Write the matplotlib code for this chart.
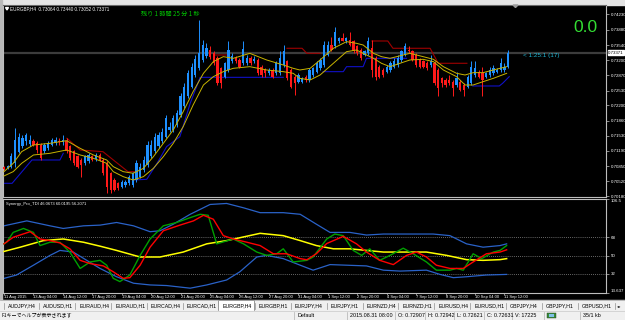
import matplotlib
matplotlib.use("Agg")
import matplotlib.pyplot as plt
from matplotlib.patches import Rectangle, Polygon

plt.rcParams['font.family'] = ['Liberation Sans', 'Noto Sans CJK JP', 'DejaVu Sans']

# ---------------- data ----------------
opens = [0.7084, 0.7080, 0.7084, 0.7092, 0.7117, 0.7129, 0.7140, 0.7135, 0.7141, 0.7136,
         0.7132, 0.7118, 0.7125, 0.7132, 0.7136, 0.7140, 0.7138, 0.7140, 0.7129, 0.7118,
         0.7107, 0.7099, 0.7092, 0.7096, 0.7107, 0.7101, 0.7110, 0.7099, 0.7092, 0.7070,
         0.7055, 0.7047, 0.7040, 0.7043, 0.7047, 0.7043, 0.7055, 0.7062, 0.7077, 0.7088,
         0.7107, 0.7118, 0.7129, 0.7140, 0.7151, 0.7166, 0.7166, 0.7177, 0.7199, 0.7218,
         0.7240, 0.7262, 0.7288, 0.7303, 0.7321, 0.7329, 0.7343, 0.7336, 0.7325, 0.7303,
         0.7284, 0.7299, 0.7318, 0.7325, 0.7321, 0.7314, 0.7314, 0.7325, 0.7318, 0.7321,
         0.7306, 0.7299, 0.7292, 0.7299, 0.7292, 0.7292, 0.7310, 0.7318, 0.7299, 0.7284,
         0.7273, 0.7273, 0.7284, 0.7277, 0.7288, 0.7295, 0.7303, 0.7310, 0.7332, 0.7354,
         0.7351, 0.7362, 0.7369, 0.7362, 0.7365, 0.7362, 0.7351, 0.7343, 0.7332, 0.7336,
         0.7347, 0.7325, 0.7306, 0.7299, 0.7295, 0.7299, 0.7306, 0.7310, 0.7321, 0.7332,
         0.7343, 0.7340, 0.7332, 0.7321, 0.7318, 0.7314, 0.7310, 0.7314, 0.7299, 0.7280,
         0.7277, 0.7277, 0.7273, 0.7266, 0.7273, 0.7266, 0.7262, 0.7269, 0.7288, 0.7295,
         0.7292, 0.7284, 0.7288, 0.7292, 0.7295, 0.7299, 0.7299, 0.7306]
closes = [0.7079, 0.7086, 0.7108, 0.7143, 0.7151, 0.7147, 0.7155, 0.7143, 0.7132, 0.7121,
          0.7103, 0.7132, 0.7136, 0.7143, 0.7143, 0.7138, 0.7143, 0.7118, 0.7103, 0.7092,
          0.7084, 0.7088, 0.7107, 0.7110, 0.7099, 0.7110, 0.7099, 0.7070, 0.7040, 0.7033,
          0.7033, 0.7036, 0.7051, 0.7051, 0.7062, 0.7070, 0.7092, 0.7084, 0.7099, 0.7132,
          0.7132, 0.7151, 0.7155, 0.7162, 0.7192, 0.7173, 0.7192, 0.7203, 0.7240, 0.7262,
          0.7292, 0.7306, 0.7323, 0.7336, 0.7354, 0.7347, 0.7327, 0.7314, 0.7269, 0.7269,
          0.7314, 0.7343, 0.7329, 0.7318, 0.7306, 0.7345, 0.7325, 0.7314, 0.7323, 0.7292,
          0.7288, 0.7292, 0.7299, 0.7284, 0.7314, 0.7325, 0.7340, 0.7280, 0.7262, 0.7269,
          0.7288, 0.7280, 0.7277, 0.7299, 0.7303, 0.7314, 0.7321, 0.7354, 0.7354, 0.7343,
          0.7384, 0.7369, 0.7364, 0.7369, 0.7354, 0.7340, 0.7336, 0.7325, 0.7340, 0.7362,
          0.7299, 0.7284, 0.7284, 0.7288, 0.7306, 0.7314, 0.7318, 0.7325, 0.7340, 0.7351,
          0.7340, 0.7321, 0.7310, 0.7306, 0.7306, 0.7303, 0.7318, 0.7269, 0.7258, 0.7269,
          0.7266, 0.7269, 0.7258, 0.7280, 0.7255, 0.7255, 0.7284, 0.7306, 0.7303, 0.7284,
          0.7277, 0.7292, 0.7299, 0.7303, 0.7299, 0.7314, 0.7306, 0.7337]
highs = [0.7086, 0.7088, 0.7114, 0.7170, 0.7158, 0.7154, 0.7158, 0.7155, 0.7145, 0.7140,
         0.7136, 0.7136, 0.7140, 0.7147, 0.7151, 0.7147, 0.7155, 0.7147, 0.7132, 0.7121,
         0.7110, 0.7103, 0.7110, 0.7114, 0.7110, 0.7114, 0.7114, 0.7103, 0.7096, 0.7073,
         0.7058, 0.7051, 0.7055, 0.7055, 0.7066, 0.7073, 0.7099, 0.7092, 0.7107, 0.7140,
         0.7143, 0.7158, 0.7162, 0.7170, 0.7199, 0.7184, 0.7199, 0.7210, 0.7247, 0.7269,
         0.7299, 0.7314, 0.7332, 0.7410, 0.7366, 0.7358, 0.7351, 0.7340, 0.7329, 0.7306,
         0.7317, 0.7362, 0.7336, 0.7329, 0.7325, 0.7362, 0.7332, 0.7329, 0.7329, 0.7325,
         0.7310, 0.7303, 0.7303, 0.7303, 0.7318, 0.7340, 0.7355, 0.7321, 0.7303, 0.7288,
         0.7292, 0.7284, 0.7288, 0.7303, 0.7306, 0.7318, 0.7325, 0.7362, 0.7362, 0.7373,
         0.7395, 0.7373, 0.7381, 0.7373, 0.7384, 0.7366, 0.7354, 0.7347, 0.7343, 0.7373,
         0.7366, 0.7329, 0.7310, 0.7303, 0.7310, 0.7318, 0.7325, 0.7332, 0.7343, 0.7358,
         0.7351, 0.7343, 0.7336, 0.7325, 0.7321, 0.7318, 0.7332, 0.7318, 0.7303, 0.7284,
         0.7280, 0.7288, 0.7277, 0.7295, 0.7277, 0.7269, 0.7288, 0.7318, 0.7318, 0.7299,
         0.7306, 0.7295, 0.7306, 0.7310, 0.7303, 0.7325, 0.7314, 0.7344]
lows = [0.7077, 0.7078, 0.7081, 0.7084, 0.7114, 0.7125, 0.7132, 0.7129, 0.7129, 0.7114,
        0.7099, 0.7114, 0.7121, 0.7129, 0.7132, 0.7132, 0.7132, 0.7114, 0.7099, 0.7088,
        0.7081, 0.7062, 0.7088, 0.7092, 0.7096, 0.7096, 0.7096, 0.7066, 0.7025, 0.7025,
        0.7029, 0.7033, 0.7036, 0.7040, 0.7044, 0.7040, 0.7051, 0.7058, 0.7073, 0.7084,
        0.7103, 0.7114, 0.7125, 0.7136, 0.7147, 0.7162, 0.7162, 0.7173, 0.7195, 0.7214,
        0.7236, 0.7258, 0.7284, 0.7299, 0.7317, 0.7325, 0.7323, 0.7310, 0.7266, 0.7258,
        0.7280, 0.7295, 0.7314, 0.7314, 0.7303, 0.7310, 0.7310, 0.7310, 0.7314, 0.7288,
        0.7284, 0.7284, 0.7288, 0.7280, 0.7288, 0.7288, 0.7306, 0.7277, 0.7258, 0.7243,
        0.7269, 0.7269, 0.7273, 0.7273, 0.7284, 0.7292, 0.7299, 0.7306, 0.7329, 0.7340,
        0.7347, 0.7358, 0.7362, 0.7358, 0.7351, 0.7336, 0.7332, 0.7321, 0.7329, 0.7332,
        0.7284, 0.7277, 0.7280, 0.7284, 0.7292, 0.7295, 0.7303, 0.7306, 0.7317, 0.7329,
        0.7336, 0.7318, 0.7306, 0.7303, 0.7303, 0.7299, 0.7306, 0.7266, 0.7240, 0.7262,
        0.7262, 0.7266, 0.7240, 0.7262, 0.7251, 0.7240, 0.7258, 0.7266, 0.7284, 0.7280,
        0.7240, 0.7280, 0.7284, 0.7288, 0.7292, 0.7295, 0.7295, 0.7303]

nan = float('nan')
ma_x = [0, 2.5, 4.8, 8.0, 12.5, 17.0, 20.7, 24.3, 27.9, 29.7, 32.4, 35.1, 37.9, 40.6, 43.3,
        46.0, 48.7, 51.4, 54.2, 56.9, 59.6, 62.3, 66.8, 71.4, 75.9, 78.6, 80.4, 83.2, 85.9,
        89.5, 93.1, 95.8, 97.6, 100.4, 102.6, 104.9, 110.3, 113.9, 116.7, 119.4, 123.0,
        125.3, 127.5, 130.2, 133.0, 136.6]
ma_upper = [0.70730, 0.70915, 0.71174, 0.71322, 0.71359, 0.71418, 0.71248, 0.71100, 0.70989,
            0.70841, 0.70730, 0.70693, 0.70804, 0.71063, 0.71359, 0.71655, 0.72062, 0.72506,
            0.72913, 0.73172, 0.73283, 0.73246, 0.73357, 0.73209, 0.73098, 0.73024, 0.72987,
            0.73024, 0.73209, 0.73468, 0.73616, 0.73579, 0.73542, 0.73357, 0.73283, 0.73246,
            0.73357, 0.73283, 0.73224, 0.73061, 0.72913, 0.72876, 0.72928, 0.72928, 0.72987,
            0.73061]
ma_lower = [0.70634, 0.70730, 0.70915, 0.71100, 0.71137, 0.71211, 0.71100, 0.71026, 0.70915,
            0.70730, 0.70619, 0.70545, 0.70619, 0.70804, 0.71063, 0.71359, 0.71729, 0.72210,
            0.72654, 0.72839, 0.72950, 0.73024, 0.73061, 0.72987, 0.72950, 0.72913, 0.72802,
            0.72765, 0.72876, 0.73135, 0.73394, 0.73431, 0.73357, 0.73246, 0.73135, 0.73061,
            0.73209, 0.73224, 0.73172, 0.72987, 0.72839, 0.72654, 0.72654, 0.72728, 0.72802,
            0.72913]
support_x = [0, 2.2, 7.6, 15.2, 16.1, nan, 35.1, 38.8, 41.6, 44.2, 47.8, 50.6, 53.3, 75.9, nan,
             86.7, 92.2, 93.1, 97.6, 98.5, 109.4, nan, 127.4, 134.6, 135.5, 137.3]
support_y = [0.70471, 0.70471, 0.70989, 0.70989, 0.71137, nan, 0.70545, 0.70560, 0.70915,
             0.71285, 0.71507, 0.72247, 0.72824, 0.72824, nan, 0.72950, 0.72950, 0.73061,
             0.73061, 0.73246, 0.73246, nan, 0.72632, 0.72632, 0.72691, 0.72839]
resist_x = [17.1, 20.7, 26.9, 33.7, 36.1, nan, 57.3, 60.9, nan, 76.9, 81.0, 82.3, 85.9, nan,
            100.0, 104.3, 105.7, 115.8, 118.0, 125.8]
resist_y = [0.71471, 0.71211, 0.71173, 0.70729, 0.70729, nan, 0.73320, 0.73320, nan, 0.73469,
            0.73469, 0.73358, 0.73358, nan, 0.73631, 0.73631, 0.73469, 0.73469, 0.73136, 0.73136]
bid_price = 0.73371
price_ticks = [0.74230, 0.73880, 0.73540, 0.73200, 0.72870, 0.72530, 0.72200, 0.71860,
               0.71530, 0.71190, 0.70850, 0.70520, 0.70180]

# TDI indicator
band_up_x = [0, 6.2, 12.5, 16.1, 21.6, 26.1, 30.6, 35.2, 39.7, 42.4, 46.0, 50.6, 56.0, 60.5,
             65.1, 69.6, 75.9, 80.5, 84.9, 88.6, 94.0, 98.5, 103.1, 107.6, 116.6, 121.2, 125.7,
             130.2, 134.8, 136.6]
band_up = [79.5, 84.4, 79.5, 76.9, 79.5, 80.2, 82.8, 79.5, 73.7, 74.6, 81.1, 90.9, 100.6, 101.6,
           97.3, 92.5, 92.5, 90.9, 81.1, 73.0, 73.0, 70.4, 71.4, 71.4, 71.4, 69.8, 61.7, 58.4,
           60.0, 61.7]
band_lo_x = [0, 3.4, 8.0, 12.5, 15.2, 18.8, 22.5, 26.1, 30.6, 35.2, 39.7, 44.2, 50.6, 55.1, 60.5,
             64.1, 68.7, 71.4, 75.9, 80.5, 84.0, 88.6, 98.5, 103.1, 107.6, 114.8, 118.5, 122.1,
             125.7, 131.1, 136.6]
band_lo = [27.6, 30.9, 40.6, 50.3, 55.2, 53.6, 45.4, 37.4, 29.2, 22.8, 21.1, 20.5, 17.9, 21.1,
           26.0, 34.1, 48.7, 50.3, 47.1, 40.6, 35.7, 41.2, 39.9, 35.7, 34.8, 35.7, 31.5, 28.3,
           29.2, 30.9, 31.5]
base_x = [0, 4.4, 10.7, 16.1, 21.6, 26.1, 30.6, 37.0, 42.4, 48.7, 55.1, 60.5, 69.6, 75.9, 80.5,
          84.9, 89.5, 94.0, 98.5, 103.1, 107.6, 114.8, 120.3, 125.7, 130.2, 134.8, 136.6]
base_v = [54.2, 58.4, 64.9, 66.5, 63.3, 59.4, 55.2, 48.7, 48.7, 53.6, 61.7, 64.9, 72.1, 69.8,
          64.9, 60.0, 56.8, 56.8, 55.2, 53.6, 53.6, 53.6, 50.3, 46.1, 45.4, 46.1, 47.1]
rsi_x = [0, 0.7, 2.5, 5.3, 8.0, 9.8, 12.5, 15.2, 17.9, 20.7, 23.4, 26.1, 27.9, 29.7, 31.5, 34.2,
         37.0, 39.7, 43.3, 46.9, 50.6, 53.3, 55.5, 57.8, 62.3, 65.1, 68.7, 71.4, 74.1, 75.9,
         78.6, 82.3, 84.0, 87.7, 89.9, 92.2, 94.9, 97.2, 99.4, 102.1, 104.9, 108.5, 111.2,
         114.8, 117.5, 121.2, 123.0, 124.8, 127.5, 129.8, 133.0, 134.8, 136.6]
rsi_v = [61.7, 63.3, 73.0, 76.9, 73.0, 60.0, 63.3, 63.3, 53.6, 37.4, 43.8, 45.4, 40.6, 27.6,
         24.4, 30.9, 50.3, 66.5, 79.5, 82.8, 87.6, 90.9, 89.9, 61.7, 66.5, 61.7, 53.6, 50.3,
         51.9, 56.8, 43.8, 45.4, 48.7, 66.5, 71.4, 69.8, 55.2, 50.3, 56.8, 45.4, 50.3, 57.4,
         51.9, 43.8, 35.7, 35.7, 37.4, 35.7, 51.9, 47.1, 53.6, 55.2, 60.0]
sig_x = [0, 2.5, 7.1, 9.8, 12.5, 15.2, 17.9, 20.7, 23.4, 27.0, 29.7, 32.4, 34.2, 37.0, 39.7,
         43.3, 47.8, 51.5, 54.2, 56.9, 59.6, 62.3, 66.0, 69.6, 73.2, 76.8, 80.5, 82.3, 84.9,
         87.7, 92.2, 95.8, 98.5, 102.1, 105.8, 109.4, 112.1, 114.8, 117.5, 121.2, 124.8,
         127.5, 131.1, 134.8, 136.6]
sig_v = [61.7, 68.2, 73.7, 66.5, 64.9, 62.6, 56.8, 45.4, 42.2, 39.9, 34.1, 27.6, 28.3, 40.6,
         58.4, 74.6, 80.2, 84.4, 89.9, 86.0, 69.8, 66.5, 63.3, 60.0, 51.9, 51.9, 47.1, 46.0,
         52.0, 62.0, 69.1, 61.7, 53.6, 45.4, 41.2, 50.3, 53.6, 48.7, 40.6, 37.4, 37.4, 43.8,
         51.9, 53.6, 55.8]
tdi_levels = [68, 50, 32]
tdi_range = [13.637, 106.5]

time_label_bars = [0, 8, 16, 24, 32, 40, 48, 56, 64, 72, 80, 88, 96, 104, 112, 120, 128, 136]
time_labels = ["11 Aug 2015", "13 Aug 04:00", "14 Aug 12:00", "17 Aug 20:00", "19 Aug 04:00",
               "20 Aug 12:00", "21 Aug 20:00", "25 Aug 04:00", "26 Aug 12:00", "27 Aug 20:00",
               "31 Aug 04:00", "1 Sep 12:00", "2 Sep 20:00", "4 Sep 04:00", "7 Sep 12:00",
               "8 Sep 20:00", "10 Sep 04:00", "11 Sep 12:00"]
tabs = ["AUDJPY,H4", "AUDUSD,H1", "EURAUD,H4", "EURAUD,H1", "EURCAD,H4", "EURCAD,H1",
        "EURGBP,H4", "EURGBP,H1", "EURJPY,H4", "EURJPY,H1", "EURNZD,H4", "EURNZD,H1",
        "EURUSD,H4", "EURUSD,H1", "GBPJPY,H4", "GBPJPY,H1", "GBPUSD,H1"]
status_items = ["Default", "2015.08.31 08:00", "O: 0.72907", "H: 0.72942", "L: 0.72621",
                "C: 0.72631", "V: 17225", "35/1 kb"]

# ---------------- layout ----------------
W, H = 625, 320
fig = plt.figure(figsize=(6.25, 3.2), dpi=100)
fig.patch.set_facecolor('black')


def rect(x0, y0, x1, y1):
    return [x0 / W, 1 - y1 / H, (x1 - x0) / W, (y1 - y0) / H]


bg = fig.add_axes([0, 0, 1, 1])
bg.set_xlim(0, W)
bg.set_ylim(H, 0)
bg.axis('off')
bg.add_patch(Rectangle((0, 0), W, 4.5, color='#e4e4e4', zorder=1))
bg.add_patch(Rectangle((0, 0), 2.2, 300, color='#b8b8b8', zorder=1))

XL = (-0.27, 163.6)
CW = 0.62
BULL, BEAR = '#1e90ff', '#ff1a1a'

ax = fig.add_axes(rect(3, 5, 606, 197))
ax.set_facecolor('black')
ax.set_xlim(*XL)
ax.set_ylim(0.70167, 0.74430)
ax.set_xticks([])
for s in ax.spines.values():
    s.set_color('#bdbdbd')
    s.set_linewidth(0.8)
ax.spines['top'].set_color('#6a6a6a')

ax.axhline(bid_price, color='#3c3c3c', lw=1.6, zorder=1)
for i in range(len(opens)):
    o, h, l, c = opens[i], highs[i], lows[i], closes[i]
    col = BULL if c >= o else BEAR
    ax.vlines(i, l, h, color=col, lw=0.7, zorder=3)
    ax.bar(i, max(abs(c - o), 0.00004), bottom=min(o, c), width=CW, color=col,
           linewidth=0, zorder=3)
ax.plot(ma_x, ma_upper, color='#c8b400', lw=0.7, zorder=4)
ax.plot(ma_x, ma_lower, color='#c8b400', lw=0.7, zorder=4)
ax.plot(support_x, support_y, color='#1010c8', lw=0.8, zorder=2)
ax.plot(resist_x, resist_y, color='#a00000', lw=0.8, zorder=2)

ax.yaxis.tick_right()
ax.set_yticks(price_ticks)
ax.set_yticklabels([f"{p:.5f}" for p in price_ticks])
ax.tick_params(axis='y', labelcolor='white', color='#c0c0c0', length=2, width=0.5,
               labelsize=3.2, pad=1.2)
ax.text(164.2, bid_price, f"{bid_price:.5f}", fontsize=3.2, color='black', va='center',
        ha='left', clip_on=False, zorder=10,
        bbox=dict(boxstyle='square,pad=0.15', fc='white', ec='white'))

ind = fig.add_axes(rect(3, 198.5, 606, 292.5))
ind.set_facecolor('black')
ind.set_xlim(*XL)
ind.set_ylim(*tdi_range)
for s in ind.spines.values():
    s.set_color('#bdbdbd')
    s.set_linewidth(0.8)
for lv in tdi_levels:
    ind.axhline(lv, color='#8a8a8a', lw=0.6, ls=(0, (1, 1.5)), zorder=1)
ind.plot(band_up_x, band_up, color='#2a62c8', lw=0.9, zorder=2)
ind.plot(band_lo_x, band_lo, color='#2a62c8', lw=0.9, zorder=2)
ind.plot(base_x, base_v, color='#ffff00', lw=1.1, zorder=3)
ind.plot(rsi_x, rsi_v, color='#00a000', lw=1.0, zorder=4)
ind.plot(sig_x, sig_v, color='#ff0000', lw=1.0, zorder=5)

ind.yaxis.tick_right()
yt = [tdi_range[1]] + tdi_levels + [tdi_range[0]]
ind.set_yticks(yt)
ind.set_yticklabels(["106.5", "68", "50", "32", "13.637"])
ind.tick_params(axis='y', labelcolor='white', color='#c0c0c0', length=2, width=0.5,
                labelsize=3.2, pad=1.2)
tls = ind.get_yticklabels()
tls[0].set_va('top')
tls[-1].set_va('bottom')
ind.set_xticks(time_label_bars)
ind.set_xticklabels(time_labels, ha='left')
ind.tick_params(axis='x', labelcolor='white', color='#c0c0c0', length=1.5, width=0.5,
                labelsize=3.0, pad=0.4)

# ---------------- overlays ----------------
ov = fig.add_axes([0, 0, 1, 1])
ov.set_xlim(0, W)
ov.set_ylim(H, 0)
ov.axis('off')
ov.patch.set_alpha(0)
ov.add_patch(Polygon([[5.5, 7.5], [8.5, 7.5], [7, 10]], closed=True, color='white'))
ov.text(10.5, 9, "EURGBP,H4  0.73064 0.73440 0.73052 0.73371", fontsize=3.3, color='white',
        va='center', ha='left')
ov.text(141, 14, "残り 1 時間 25 分 1 秒", fontsize=4.4, color='#00c800', va='center',
        ha='left', family=['Noto Sans CJK JP', 'DejaVu Sans'])
ov.text(573, 27.5, "0.0", fontsize=12.5, color='#33dd33', va='center', ha='left',
        family=['Liberation Sans'])
ov.text(523, 55, "< 1:25:1 (17)", fontsize=4.6, color='#1fb8d6', va='center', ha='left')
ov.add_patch(Polygon([[513, 5], [518, 5], [515.5, 7.5]], closed=True, color='#9a9a9a'))
ov.text(6, 203.5, "Synergy_Pro_TDI 46.0673 60.0195 56.2071", fontsize=3.0, color='white',
        va='center', ha='left')

# tab bar
ov.add_patch(Rectangle((0, 300), W, 11, color='#f0f0f0'))
ov.plot([0, W], [300.3, 300.3], color='#a0a0a0', lw=0.5)
for k, name in enumerate(tabs):
    tx = 7.5 + 35.9 * k
    if name == "EURGBP,H4":
        ov.add_patch(Rectangle((tx - 4.5, 300.2), 35.5, 10.5, fc='white', ec='#707070', lw=0.5))
    else:
        ov.plot([tx - 4, tx - 4], [302.5, 308.5], color='#909090', lw=0.5)
    ov.text(tx, 305.6, name, fontsize=3.8, color='black', va='center', ha='left')
ov.plot([615, 615], [302.5, 308.5], color='#909090', lw=0.5)
ov.text(617, 305.6, "◂▸", fontsize=3.2, color='black', va='center', ha='left',
        family=['DejaVu Sans'])

# status bar
ov.add_patch(Rectangle((0, 311), W, 9, color='#f0f0f0'))
ov.plot([0, W], [311.2, 311.2], color='#c8c8c8', lw=0.5)
ov.text(2, 315.8, "F1キーでヘルプが表示されます", fontsize=3.6, color='black', va='center',
        ha='left', family=['Noto Sans CJK JP', 'DejaVu Sans'])
status_x = [297, 350, 398, 428, 457, 487, 515, 583]
for sx, item in zip(status_x, status_items):
    ov.plot([sx - 3, sx - 3], [312, 319.5], color='#b0b0b0', lw=0.5)
    ov.text(sx, 315.8, item, fontsize=3.9, color='black', va='center', ha='left')
ov.plot([544, 544], [312, 319.5], color='#b0b0b0', lw=0.5)
ov.add_patch(Rectangle((547, 313), 9, 5, fc='#3a8a3a', ec='#204020', lw=0.3))
ov.add_patch(Rectangle((549, 314), 5, 3, fc='#7fc0e8', lw=0))

fig.savefig("out.png", dpi=100, facecolor=fig.get_facecolor())
